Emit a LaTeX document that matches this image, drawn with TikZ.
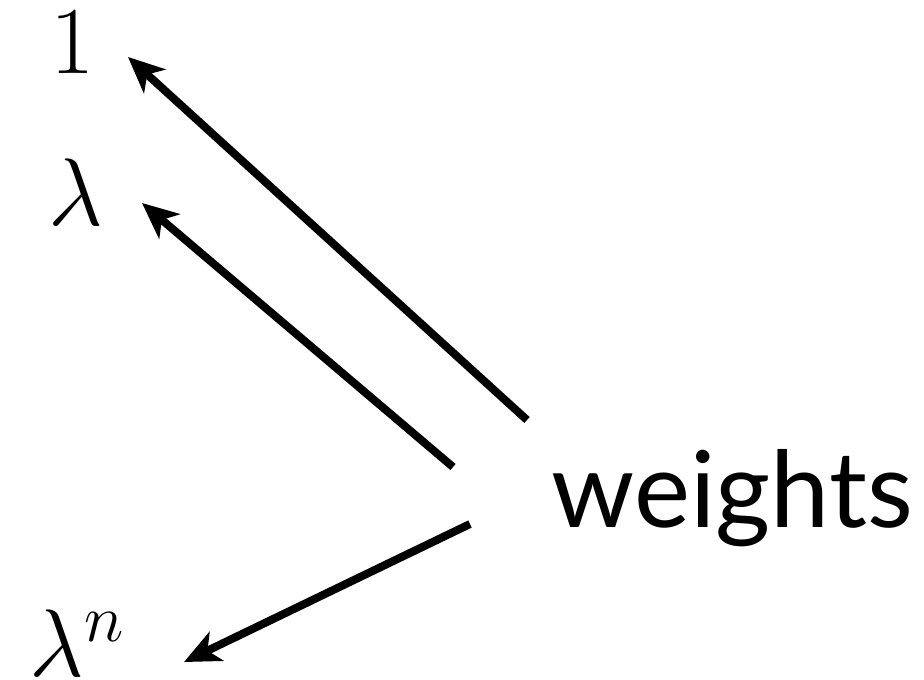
\RequirePackage{fix-cm}
\documentclass[tikz,border=0pt]{standalone}
\usepackage{fontspec}
\newfontfamily\labelfont{Lato}
\usetikzlibrary{arrows.meta}
\tikzset{
  weightarrow/.style={line width=4pt, -{Stealth[length=18pt, width=16pt, inset=5pt]}},
  powlabel/.style={inner sep=0pt, anchor=base, font=\fontsize{48}{56}\selectfont}
}
\begin{document}
\begin{tikzpicture}[x=0.5pt, y=-0.5pt]
  \useasboundingbox (0,0) rectangle (924,679);
  % labels
  \node[powlabel] (one) at (73,74) {$1$};
  \node[powlabel] (lam) at (76,225) {$\lambda$};
  \node[powlabel] (lamn) at (77,676) {$\lambda^n$};
  \node[inner sep=0pt, anchor=base west, font=\labelfont\fontsize{53}{60}\selectfont] (weights) at (551,527) {weights};
  % arrow ends
  \coordinate (tail1) at (527,420);
  \coordinate (tail2) at (453,467);
  \coordinate (tail3) at (470,524);
  \coordinate (tip1) at (128,57);
  \coordinate (tip2) at (142,203);
  \coordinate (tip3) at (184,662);
  % arrows
  \draw[weightarrow] (tail1) -- (tip1);
  \draw[weightarrow] (tail2) -- (tip2);
  \draw[weightarrow] (tail3) -- (tip3);
\end{tikzpicture}
\end{document}
